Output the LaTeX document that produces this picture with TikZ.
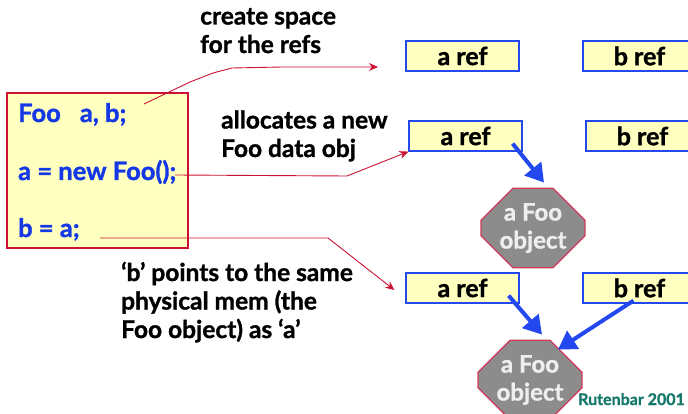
\documentclass[tikz,border=0pt]{standalone}
\usepackage{fontspec}
\setmainfont{Lato}[BoldFeatures={FakeBold=1.2}]
\usepackage{tikz}
\usetikzlibrary{shapes.misc,arrows.meta,positioning,calc}
\definecolor{CodeBlue}{HTML}{1438E6}
\definecolor{BoxBlue}{HTML}{2448F0}
\definecolor{SoftYellow}{HTML}{FFFFC0}
\definecolor{NoteRed}{HTML}{CC1133}
\definecolor{ObjGray}{HTML}{8C8C8C}
\definecolor{ObjEdge}{HTML}{D23A5A}
\definecolor{ObjText}{HTML}{EEEEEE}
\definecolor{CredTeal}{HTML}{16786A}
\tikzset{
  RB/.style={rectangle,draw=BoxBlue,fill=SoftYellow,line width=1.2pt,
             minimum width=113pt,minimum height=30pt,inner sep=0pt,
             font=\fontsize{25}{28}\selectfont\bfseries},
  OB/.style={chamfered rectangle,chamfered rectangle xsep=17pt,
             chamfered rectangle ysep=15pt,draw=ObjEdge,fill=ObjGray,
             line width=1.2pt,minimum width=104pt,minimum height=70pt,
             inner sep=0pt,align=center,text=ObjText,
             font=\fontsize{24}{28}\selectfont\bfseries},
  CL/.style={anchor=base west,inner sep=0pt,text=CodeBlue,
             font=\fontsize{25.5}{28}\selectfont\bfseries},
  TX/.style={anchor=base west,inner sep=0pt,align=left,
             font=\fontsize{24.5}{28.5}\selectfont\bfseries},
  ptr/.style={-{Triangle[length=18pt,width=21pt]},line width=4pt,draw=BoxBlue},
  note/.style={-{Stealth[length=9pt,width=8pt]},line width=0.9pt,draw=NoteRed}
}
\begin{document}
\begin{tikzpicture}[x=1pt,y=-1pt]
  \useasboundingbox (0,0) rectangle (688,414);

  % code on the left
  \node[draw=NoteRed,fill=SoftYellow,line width=1.2pt,minimum width=181pt,
        minimum height=155pt,inner sep=0pt] (code) at (97.5,170.5) {};
  \node[CL] (l1) at (18,122) {Foo\hspace{0.75em}a, b;};
  \node[CL] (l2) at (18,180) {a = new Foo();};
  \node[CL] (l3) at (18,237) {b = a;};

  % notes (base = last line)
  \node[TX] (n1) at (200,53) {create space\\for the refs};
  \node[TX] (n2) at (221,157) {allocates a new\\Foo data obj};
  \node[TX] (n3) at (121,338) {`b' points to the same\\physical mem (the\\Foo object) as `a'};

  % refs and objects
  \node[RB] (a1) at (462.5,56) {a ref};
  \node[RB] (b1) at (639.5,56) {b ref};
  \node[RB] (a2) at (465.5,136) {a ref};
  \node[RB] (b2) at (642.5,136) {b ref};
  \node[RB] (a3) at (462.5,288) {a ref};
  \node[RB] (b3) at (639.5,288) {b ref};

  \node[anchor=base west,inner sep=0pt,text=CredTeal,
        font=\fontsize{16}{18}\selectfont\bfseries] (cred) at (578,405) {Rutenbar 2001};
  \node[OB] (o1) at (533,228) {a Foo\\object};
  \node[OB] (o2) at (530,380) {a Foo\\object};

  \coordinate (s1) at (144,104);
  \coordinate (s2) at (175,175);
  \coordinate (s3) at (100,238);
  \coordinate (t1) at (378,67);
  \draw[note] (s1) -- (190,82) -- (213,73) -- (232,68) -- (282,67) -- (t1);
  \draw[note] (s2) -- (347,176) -- (a2.south west);
  \draw[note] (s3) -- (328,238) -- ([xshift=-11pt,yshift=-2pt]a3.west);

  \draw[ptr] ([xshift=-10pt,yshift=8pt]a2.south east) -- ([xshift=11pt,yshift=5pt]o1.north);
  \draw[ptr] ([xshift=-11pt,yshift=8pt]a3.south east) -- ([xshift=12pt,yshift=5pt]o2.north);
  \draw[ptr] ([xshift=-6pt,yshift=3pt]b3.south) -- ([xshift=28pt,yshift=-10pt]o2.north);
\end{tikzpicture}
\end{document}
